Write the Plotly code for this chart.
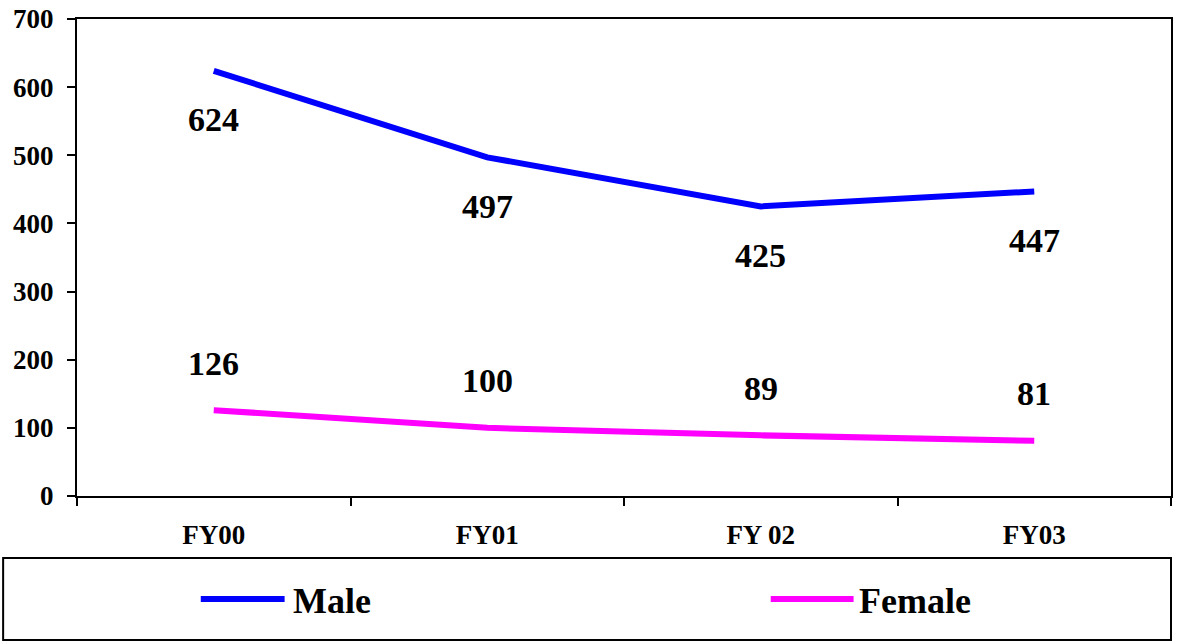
import plotly.graph_objects as go

categories = ["FY00", "FY01", "FY 02", "FY03"]
male = [624, 497, 425, 447]
female = [126, 100, 89, 81]
y_ticks = [0, 100, 200, 300, 400, 500, 600, 700]

FONT = "Liberation Serif"
W, H = 1177, 644
L, R, T, B = 77, 4, 19, 148
PW, PH = W - L - R, H - T - B

def px(x):
    return (x - L) / PW

def py(y):
    return (H - B - y) / PH

fig = go.Figure()
fig.add_trace(go.Scatter(x=categories, y=male, mode="lines", name="Male",
                         line=dict(color="#0000FF", width=6), showlegend=False))
fig.add_trace(go.Scatter(x=categories, y=female, mode="lines", name="Female",
                         line=dict(color="#FF00FF", width=6), showlegend=False))

annotations = []
for c, v in zip(categories, male):
    annotations.append(dict(x=c, y=v, text=f"<b>{v}</b>", showarrow=False, yshift=-49,
                            font=dict(family=FONT, size=34, color="black")))
for c, v in zip(categories, female):
    annotations.append(dict(x=c, y=v, text=f"<b>{v}</b>", showarrow=False, yshift=47,
                            font=dict(family=FONT, size=34, color="black")))

# manual legend
legend_items = [("Male", "#0000FF", 201, 285, 291), ("Female", "#FF00FF", 772, 855, 858)]
shapes = [dict(type="rect", xref="paper", yref="paper", x0=px(3), x1=px(1173),
               y0=py(640), y1=py(558), line=dict(color="black", width=2))]
for name, col, x0, x1, tx in legend_items:
    shapes.append(dict(type="line", xref="paper", yref="paper", x0=px(x0), x1=px(x1),
                       y0=py(599), y1=py(599), line=dict(color=col, width=6)))
    annotations.append(dict(xref="paper", yref="paper", x=px(tx), y=py(601), xanchor="left",
                            yanchor="middle", text=f"<b>{name}</b>", showarrow=False,
                            font=dict(family=FONT, size=36, color="black")))

fig.update_layout(
    width=W, height=H,
    margin=dict(l=L, r=R, t=T, b=B),
    paper_bgcolor="white", plot_bgcolor="white",
    showlegend=False,
    annotations=annotations, shapes=shapes,
    xaxis=dict(type="category", range=[-0.5, 3.5], tickson="boundaries", ticks="outside",
               ticklen=8, tickwidth=2, tickcolor="black", showline=True, linecolor="black",
               linewidth=2, mirror=True, showgrid=False,
               tickfont=dict(family=FONT, size=27, color="black", weight="bold"),
               ticklabelstandoff=14),
    yaxis=dict(range=[0, 700], tickvals=y_ticks, ticks="outside", ticklen=8, tickwidth=2,
               tickcolor="black", showline=True, linecolor="black", linewidth=2, mirror=True,
               showgrid=False, zeroline=False,
               tickfont=dict(family=FONT, size=27, color="black", weight="bold"),
               ticklabelstandoff=8),
)

fig.write_html("out.html", config={"displayModeBar": False},
               post_script="document.body.style.margin='0';document.body.style.overflow='hidden';")
